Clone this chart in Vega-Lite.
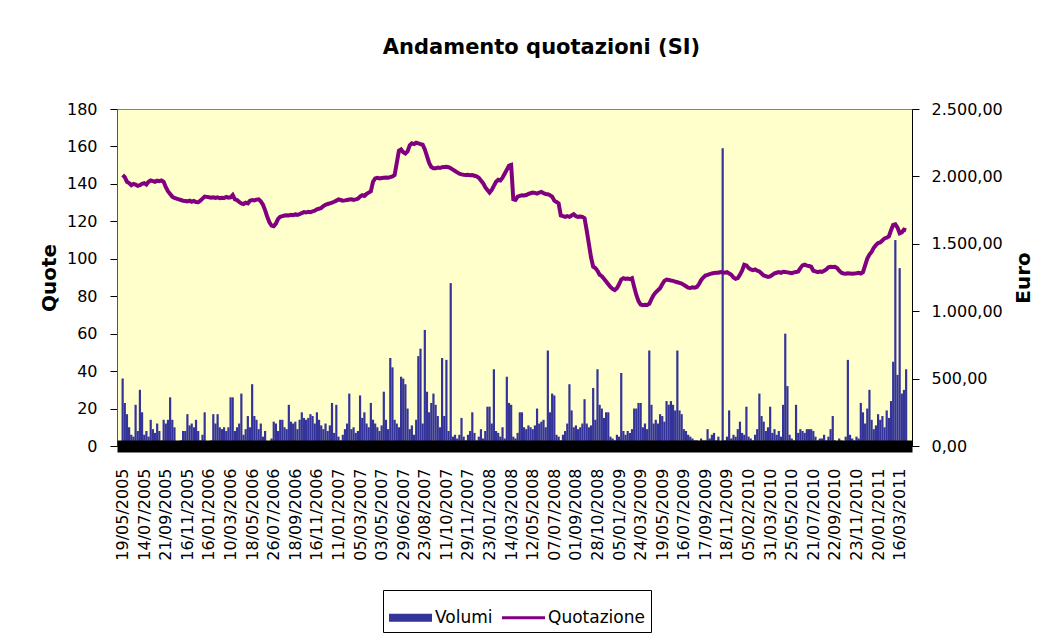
{
"$schema": "https://vega.github.io/schema/vega-lite/v6.json",
"width": 795,
"height": 337,
"autosize": "none",
"padding": {"left": 117, "top": 109, "right": 144, "bottom": 189},
"background": "white",
"title": {"text": "Andamento quotazioni (SI)", "font": "DejaVu Sans", "fontSize": 21, "fontWeight": "bold", "anchor": "middle", "dx": 27, "offset": 43, "color": "#000"},
"config": {
  "font": "DejaVu Sans",
  "view": {"fill": "#FFFFCC", "stroke": "#808080", "strokeWidth": 1},
  "axis": {"labelFont": "DejaVu Sans", "labelFontSize": 16, "labelColor": "#000", "titleFont": "DejaVu Sans", "titleFontSize": 20, "titleFontWeight": "bold", "titleColor": "#000", "grid": false, "domainColor": "#000", "tickColor": "#000"}
},
"data": {"values": [
{"n":0,"volumi":36,"quotazione":2010},{"n":1,"volumi":23,"quotazione":1995},{"n":2,"volumi":17,"quotazione":1960},{"n":3,"volumi":10,"quotazione":1950},{"n":4,"volumi":6,"quotazione":1935},{"n":5,"volumi":5,"quotazione":1945},{"n":6,"volumi":22,"quotazione":1940},{"n":7,"volumi":8,"quotazione":1930},{"n":8,"volumi":30,"quotazione":1935},{"n":9,"volumi":18,"quotazione":1945},
{"n":10,"volumi":6,"quotazione":1950},{"n":11,"volumi":8,"quotazione":1940},{"n":12,"volumi":5,"quotazione":1960},{"n":13,"volumi":14,"quotazione":1970},{"n":14,"volumi":9,"quotazione":1965},{"n":15,"volumi":7,"quotazione":1960},{"n":16,"volumi":12,"quotazione":1968},{"n":17,"volumi":8,"quotazione":1965},{"n":18,"volumi":3,"quotazione":1970},{"n":19,"volumi":14,"quotazione":1960},
{"n":20,"volumi":12,"quotazione":1920},{"n":21,"volumi":14,"quotazione":1890},{"n":22,"volumi":26,"quotazione":1870},{"n":23,"volumi":14,"quotazione":1850},{"n":24,"volumi":10,"quotazione":1840},{"n":25,"volumi":2,"quotazione":1835},{"n":26,"volumi":1,"quotazione":1830},{"n":27,"volumi":3,"quotazione":1825},{"n":28,"volumi":8,"quotazione":1820},{"n":29,"volumi":8,"quotazione":1818},
{"n":30,"volumi":17,"quotazione":1815},{"n":31,"volumi":11,"quotazione":1820},{"n":32,"volumi":12,"quotazione":1812},{"n":33,"volumi":10,"quotazione":1818},{"n":34,"volumi":14,"quotazione":1810},{"n":35,"volumi":8,"quotazione":1808},{"n":36,"volumi":3,"quotazione":1820},{"n":37,"volumi":6,"quotazione":1835},{"n":38,"volumi":18,"quotazione":1850},{"n":39,"volumi":2,"quotazione":1848},
{"n":40,"volumi":1,"quotazione":1845},{"n":41,"volumi":3,"quotazione":1842},{"n":42,"volumi":17,"quotazione":1845},{"n":43,"volumi":12,"quotazione":1840},{"n":44,"volumi":17,"quotazione":1845},{"n":45,"volumi":10,"quotazione":1838},{"n":46,"volumi":9,"quotazione":1842},{"n":47,"volumi":10,"quotazione":1840},{"n":48,"volumi":8,"quotazione":1848},{"n":49,"volumi":10,"quotazione":1842},
{"n":50,"volumi":26,"quotazione":1845},{"n":51,"volumi":26,"quotazione":1862},{"n":52,"volumi":8,"quotazione":1830},{"n":53,"volumi":10,"quotazione":1825},{"n":54,"volumi":12,"quotazione":1810},{"n":55,"volumi":28,"quotazione":1800},{"n":56,"volumi":6,"quotazione":1795},{"n":57,"volumi":9,"quotazione":1805},{"n":58,"volumi":16,"quotazione":1800},{"n":59,"volumi":10,"quotazione":1820},
{"n":60,"volumi":33,"quotazione":1825},{"n":61,"volumi":16,"quotazione":1822},{"n":62,"volumi":14,"quotazione":1828},{"n":63,"volumi":9,"quotazione":1830},{"n":64,"volumi":12,"quotazione":1815},{"n":65,"volumi":5,"quotazione":1790},{"n":66,"volumi":8,"quotazione":1750},{"n":67,"volumi":2,"quotazione":1700},{"n":68,"volumi":2,"quotazione":1660},{"n":69,"volumi":4,"quotazione":1635},
{"n":70,"volumi":13,"quotazione":1630},{"n":71,"volumi":12,"quotazione":1650},{"n":72,"volumi":8,"quotazione":1685},{"n":73,"volumi":14,"quotazione":1700},{"n":74,"volumi":14,"quotazione":1705},{"n":75,"volumi":10,"quotazione":1710},{"n":76,"volumi":9,"quotazione":1712},{"n":77,"volumi":22,"quotazione":1710},{"n":78,"volumi":13,"quotazione":1715},{"n":79,"volumi":12,"quotazione":1712},
{"n":80,"volumi":13,"quotazione":1718},{"n":81,"volumi":9,"quotazione":1715},{"n":82,"volumi":14,"quotazione":1720},{"n":83,"volumi":18,"quotazione":1728},{"n":84,"volumi":15,"quotazione":1735},{"n":85,"volumi":14,"quotazione":1732},{"n":86,"volumi":15,"quotazione":1738},{"n":87,"volumi":17,"quotazione":1735},{"n":88,"volumi":16,"quotazione":1740},{"n":89,"volumi":12,"quotazione":1745},
{"n":90,"volumi":18,"quotazione":1755},{"n":91,"volumi":14,"quotazione":1760},{"n":92,"volumi":11,"quotazione":1765},{"n":93,"volumi":9,"quotazione":1780},{"n":94,"volumi":12,"quotazione":1790},{"n":95,"volumi":8,"quotazione":1795},{"n":96,"volumi":11,"quotazione":1800},{"n":97,"volumi":23,"quotazione":1805},{"n":98,"volumi":7,"quotazione":1812},{"n":99,"volumi":22,"quotazione":1820},
{"n":100,"volumi":5,"quotazione":1830},{"n":101,"volumi":3,"quotazione":1825},{"n":102,"volumi":6,"quotazione":1820},{"n":103,"volumi":9,"quotazione":1822},{"n":104,"volumi":12,"quotazione":1825},{"n":105,"volumi":28,"quotazione":1828},{"n":106,"volumi":9,"quotazione":1830},{"n":107,"volumi":10,"quotazione":1826},{"n":108,"volumi":7,"quotazione":1830},{"n":109,"volumi":8,"quotazione":1835},
{"n":110,"volumi":27,"quotazione":1850},{"n":111,"volumi":15,"quotazione":1860},{"n":112,"volumi":18,"quotazione":1855},{"n":113,"volumi":12,"quotazione":1870},{"n":114,"volumi":10,"quotazione":1880},{"n":115,"volumi":23,"quotazione":1890},{"n":116,"volumi":14,"quotazione":1960},{"n":117,"volumi":12,"quotazione":1985},{"n":118,"volumi":10,"quotazione":1990},{"n":119,"volumi":8,"quotazione":1985},
{"n":120,"volumi":11,"quotazione":1988},{"n":121,"volumi":29,"quotazione":1990},{"n":122,"volumi":14,"quotazione":1992},{"n":123,"volumi":9,"quotazione":1990},{"n":124,"volumi":47,"quotazione":1995},{"n":125,"volumi":42,"quotazione":2000},{"n":126,"volumi":14,"quotazione":2010},{"n":127,"volumi":12,"quotazione":2100},{"n":128,"volumi":10,"quotazione":2190},{"n":129,"volumi":37,"quotazione":2200},
{"n":130,"volumi":36,"quotazione":2180},{"n":131,"volumi":33,"quotazione":2170},{"n":132,"volumi":20,"quotazione":2185},{"n":133,"volumi":9,"quotazione":2230},{"n":134,"volumi":11,"quotazione":2245},{"n":135,"volumi":6,"quotazione":2240},{"n":136,"volumi":14,"quotazione":2250},{"n":137,"volumi":48,"quotazione":2245},{"n":138,"volumi":52,"quotazione":2240},{"n":139,"volumi":12,"quotazione":2235},
{"n":140,"volumi":62,"quotazione":2200},{"n":141,"volumi":29,"quotazione":2150},{"n":142,"volumi":18,"quotazione":2100},{"n":143,"volumi":23,"quotazione":2070},{"n":144,"volumi":28,"quotazione":2060},{"n":145,"volumi":22,"quotazione":2060},{"n":146,"volumi":16,"quotazione":2065},{"n":147,"volumi":10,"quotazione":2062},{"n":148,"volumi":47,"quotazione":2068},{"n":149,"volumi":16,"quotazione":2070},
{"n":150,"volumi":46,"quotazione":2072},{"n":151,"volumi":8,"quotazione":2068},{"n":152,"volumi":87,"quotazione":2060},{"n":153,"volumi":5,"quotazione":2050},{"n":154,"volumi":6,"quotazione":2040},{"n":155,"volumi":4,"quotazione":2030},{"n":156,"volumi":6,"quotazione":2020},{"n":157,"volumi":15,"quotazione":2015},{"n":158,"volumi":5,"quotazione":2012},{"n":159,"volumi":3,"quotazione":2010},
{"n":160,"volumi":6,"quotazione":2012},{"n":161,"volumi":8,"quotazione":2008},{"n":162,"volumi":18,"quotazione":2010},{"n":163,"volumi":7,"quotazione":2005},{"n":164,"volumi":3,"quotazione":2000},{"n":165,"volumi":5,"quotazione":1990},{"n":166,"volumi":9,"quotazione":1970},{"n":167,"volumi":4,"quotazione":1950},{"n":168,"volumi":8,"quotazione":1920},{"n":169,"volumi":21,"quotazione":1900},
{"n":170,"volumi":21,"quotazione":1880},{"n":171,"volumi":12,"quotazione":1900},{"n":172,"volumi":41,"quotazione":1930},{"n":173,"volumi":8,"quotazione":1960},{"n":174,"volumi":7,"quotazione":1975},{"n":175,"volumi":5,"quotazione":1970},{"n":176,"volumi":10,"quotazione":1990},{"n":177,"volumi":4,"quotazione":2020},{"n":178,"volumi":37,"quotazione":2050},{"n":179,"volumi":23,"quotazione":2080},
{"n":180,"volumi":22,"quotazione":2085},{"n":181,"volumi":5,"quotazione":1830},{"n":182,"volumi":4,"quotazione":1825},{"n":183,"volumi":7,"quotazione":1850},{"n":184,"volumi":18,"quotazione":1855},{"n":185,"volumi":18,"quotazione":1860},{"n":186,"volumi":10,"quotazione":1858},{"n":187,"volumi":9,"quotazione":1862},{"n":188,"volumi":11,"quotazione":1870},{"n":189,"volumi":10,"quotazione":1875},
{"n":190,"volumi":9,"quotazione":1880},{"n":191,"volumi":11,"quotazione":1878},{"n":192,"volumi":20,"quotazione":1872},{"n":193,"volumi":12,"quotazione":1880},{"n":194,"volumi":13,"quotazione":1885},{"n":195,"volumi":14,"quotazione":1875},{"n":196,"volumi":10,"quotazione":1870},{"n":197,"volumi":51,"quotazione":1868},{"n":198,"volumi":18,"quotazione":1860},{"n":199,"volumi":28,"quotazione":1850},
{"n":200,"volumi":27,"quotazione":1820},{"n":201,"volumi":6,"quotazione":1810},{"n":202,"volumi":5,"quotazione":1800},{"n":203,"volumi":3,"quotazione":1710},{"n":204,"volumi":6,"quotazione":1705},{"n":205,"volumi":8,"quotazione":1700},{"n":206,"volumi":12,"quotazione":1705},{"n":207,"volumi":33,"quotazione":1700},{"n":208,"volumi":19,"quotazione":1710},{"n":209,"volumi":10,"quotazione":1720},
{"n":210,"volumi":11,"quotazione":1705},{"n":211,"volumi":9,"quotazione":1700},{"n":212,"volumi":10,"quotazione":1702},{"n":213,"volumi":12,"quotazione":1700},{"n":214,"volumi":25,"quotazione":1690},{"n":215,"volumi":12,"quotazione":1600},{"n":216,"volumi":10,"quotazione":1500},{"n":217,"volumi":11,"quotazione":1400},{"n":218,"volumi":31,"quotazione":1330},{"n":219,"volumi":14,"quotazione":1320},
{"n":220,"volumi":41,"quotazione":1300},{"n":221,"volumi":22,"quotazione":1270},{"n":222,"volumi":20,"quotazione":1260},{"n":223,"volumi":15,"quotazione":1240},{"n":224,"volumi":18,"quotazione":1220},{"n":225,"volumi":18,"quotazione":1200},{"n":226,"volumi":5,"quotazione":1180},{"n":227,"volumi":4,"quotazione":1165},{"n":228,"volumi":3,"quotazione":1157},{"n":229,"volumi":6,"quotazione":1170},
{"n":230,"volumi":5,"quotazione":1200},{"n":231,"volumi":39,"quotazione":1235},{"n":232,"volumi":8,"quotazione":1245},{"n":233,"volumi":6,"quotazione":1240},{"n":234,"volumi":8,"quotazione":1242},{"n":235,"volumi":7,"quotazione":1238},{"n":236,"volumi":9,"quotazione":1245},{"n":237,"volumi":20,"quotazione":1180},{"n":238,"volumi":20,"quotazione":1120},{"n":239,"volumi":23,"quotazione":1075},
{"n":240,"volumi":23,"quotazione":1050},{"n":241,"volumi":10,"quotazione":1045},{"n":242,"volumi":12,"quotazione":1048},{"n":243,"volumi":9,"quotazione":1046},{"n":244,"volumi":51,"quotazione":1055},{"n":245,"volumi":22,"quotazione":1090},{"n":246,"volumi":12,"quotazione":1120},{"n":247,"volumi":14,"quotazione":1140},{"n":248,"volumi":12,"quotazione":1155},{"n":249,"volumi":17,"quotazione":1170},
{"n":250,"volumi":16,"quotazione":1200},{"n":251,"volumi":13,"quotazione":1225},{"n":252,"volumi":24,"quotazione":1235},{"n":253,"volumi":22,"quotazione":1232},{"n":254,"volumi":24,"quotazione":1228},{"n":255,"volumi":22,"quotazione":1225},{"n":256,"volumi":19,"quotazione":1220},{"n":257,"volumi":51,"quotazione":1215},{"n":258,"volumi":19,"quotazione":1210},{"n":259,"volumi":17,"quotazione":1205},
{"n":260,"volumi":9,"quotazione":1195},{"n":261,"volumi":8,"quotazione":1185},{"n":262,"volumi":6,"quotazione":1175},{"n":263,"volumi":5,"quotazione":1172},{"n":264,"volumi":4,"quotazione":1178},{"n":265,"volumi":3,"quotazione":1175},{"n":266,"volumi":3,"quotazione":1180},{"n":267,"volumi":2,"quotazione":1200},{"n":268,"volumi":4,"quotazione":1230},{"n":269,"volumi":3,"quotazione":1250},
{"n":270,"volumi":3,"quotazione":1265},{"n":271,"volumi":9,"quotazione":1270},{"n":272,"volumi":4,"quotazione":1275},{"n":273,"volumi":6,"quotazione":1280},{"n":274,"volumi":7,"quotazione":1283},{"n":275,"volumi":3,"quotazione":1285},{"n":276,"volumi":5,"quotazione":1285},{"n":277,"volumi":2,"quotazione":1290},{"n":278,"volumi":159,"quotazione":1288},{"n":279,"volumi":3,"quotazione":1285},
{"n":280,"volumi":5,"quotazione":1290},{"n":281,"volumi":19,"quotazione":1280},{"n":282,"volumi":4,"quotazione":1270},{"n":283,"volumi":6,"quotazione":1250},{"n":284,"volumi":5,"quotazione":1240},{"n":285,"volumi":9,"quotazione":1245},{"n":286,"volumi":13,"quotazione":1270},{"n":287,"volumi":7,"quotazione":1300},{"n":288,"volumi":6,"quotazione":1345},{"n":289,"volumi":21,"quotazione":1340},
{"n":290,"volumi":5,"quotazione":1320},{"n":291,"volumi":4,"quotazione":1310},{"n":292,"volumi":3,"quotazione":1305},{"n":293,"volumi":6,"quotazione":1310},{"n":294,"volumi":9,"quotazione":1300},{"n":295,"volumi":28,"quotazione":1295},{"n":296,"volumi":16,"quotazione":1280},{"n":297,"volumi":13,"quotazione":1265},{"n":298,"volumi":8,"quotazione":1260},{"n":299,"volumi":10,"quotazione":1255},
{"n":300,"volumi":21,"quotazione":1258},{"n":301,"volumi":7,"quotazione":1270},{"n":302,"volumi":9,"quotazione":1280},{"n":303,"volumi":6,"quotazione":1285},{"n":304,"volumi":8,"quotazione":1290},{"n":305,"volumi":5,"quotazione":1285},{"n":306,"volumi":22,"quotazione":1292},{"n":307,"volumi":60,"quotazione":1290},{"n":308,"volumi":32,"quotazione":1288},{"n":309,"volumi":6,"quotazione":1285},
{"n":310,"volumi":4,"quotazione":1282},{"n":311,"volumi":3,"quotazione":1288},{"n":312,"volumi":22,"quotazione":1290},{"n":313,"volumi":7,"quotazione":1295},{"n":314,"volumi":9,"quotazione":1320},{"n":315,"volumi":8,"quotazione":1340},{"n":316,"volumi":7,"quotazione":1345},{"n":317,"volumi":9,"quotazione":1338},{"n":318,"volumi":9,"quotazione":1335},{"n":319,"volumi":9,"quotazione":1330},
{"n":320,"volumi":8,"quotazione":1300},{"n":321,"volumi":5,"quotazione":1295},{"n":322,"volumi":3,"quotazione":1290},{"n":323,"volumi":4,"quotazione":1295},{"n":324,"volumi":4,"quotazione":1292},{"n":325,"volumi":6,"quotazione":1300},{"n":326,"volumi":3,"quotazione":1310},{"n":327,"volumi":5,"quotazione":1325},{"n":328,"volumi":9,"quotazione":1330},{"n":329,"volumi":16,"quotazione":1328},
{"n":330,"volumi":3,"quotazione":1330},{"n":331,"volumi":2,"quotazione":1320},{"n":332,"volumi":4,"quotazione":1300},{"n":333,"volumi":3,"quotazione":1285},{"n":334,"volumi":2,"quotazione":1280},{"n":335,"volumi":5,"quotazione":1278},{"n":336,"volumi":46,"quotazione":1282},{"n":337,"volumi":6,"quotazione":1280},{"n":338,"volumi":4,"quotazione":1278},{"n":339,"volumi":3,"quotazione":1280},
{"n":340,"volumi":5,"quotazione":1282},{"n":341,"volumi":4,"quotazione":1285},{"n":342,"volumi":23,"quotazione":1280},{"n":343,"volumi":18,"quotazione":1290},{"n":344,"volumi":12,"quotazione":1340},{"n":345,"volumi":20,"quotazione":1390},{"n":346,"volumi":30,"quotazione":1420},{"n":347,"volumi":14,"quotazione":1440},{"n":348,"volumi":9,"quotazione":1470},{"n":349,"volumi":11,"quotazione":1490},
{"n":350,"volumi":17,"quotazione":1505},{"n":351,"volumi":14,"quotazione":1510},{"n":352,"volumi":16,"quotazione":1525},{"n":353,"volumi":10,"quotazione":1540},{"n":354,"volumi":19,"quotazione":1545},{"n":355,"volumi":15,"quotazione":1555},{"n":356,"volumi":24,"quotazione":1600},{"n":357,"volumi":45,"quotazione":1640},{"n":358,"volumi":110,"quotazione":1645},{"n":359,"volumi":38,"quotazione":1620},
{"n":360,"volumi":95,"quotazione":1578},{"n":361,"volumi":28,"quotazione":1585},{"n":362,"volumi":30,"quotazione":1605},{"n":363,"volumi":41,"quotazione":1600}
]},
"encoding": {
  "x": {"field": "n", "type": "quantitative",
    "scale": {"domain": [-0.3, 363.4], "nice": false, "zero": false},
    "axis": {"title": null, "values": [0,10,20,30,40,50,60,70,80,90,100,110,120,130,140,150,160,170,180,190,200,210,220,230,240,250,260,270,280,290,300,310,320,330,340,350,360],
      "labelExpr": "['19/05/2005','14/07/2005','21/09/2005','16/11/2005','16/01/2006','10/03/2006','18/05/2006','26/07/2006','18/09/2006','16/11/2006','11/01/2007','05/03/2007','03/05/2007','29/06/2007','23/08/2007','11/10/2007','29/11/2007','23/01/2008','14/03/2008','12/05/2008','07/07/2008','01/09/2008','28/10/2008','05/01/2009','24/03/2009','19/05/2009','16/07/2009','17/09/2009','18/11/2009','05/02/2010','31/03/2010','25/05/2010','21/07/2010','22/09/2010','23/11/2010','20/01/2011','16/03/2011'][round(datum.value/10)]",
      "labelAngle": -90, "ticks": false, "tickSize": 0, "labelPadding": 22, "domainWidth": 12, "domainColor": "#000", "zindex": 1, "labelOverlap": false, "labelSeparation": 0, "labelFlush": false, "labelBound": false}
  }
},
"layer": [
  {
    "mark": {"type": "bar", "orient": "vertical", "width": 2.2},
    "encoding": {
      "y": {"field": "volumi", "type": "quantitative",
        "scale": {"domain": [0, 180], "nice": false},
        "axis": {"title": "Quote", "values": [0,20,40,60,80,100,120,140,160,180], "tickSize": 7, "labelPadding": 13, "titlePadding": 7, "domainColor": "#555"}
      },
      "color": {"datum": "Volumi", "type": "nominal",
        "scale": {"domain": ["Volumi", "Quotazione"], "range": ["#333399", "#800080"]},
        "legend": {"title": null, "orient": "none", "legendX": 266, "legendY": 481, "direction": "horizontal",
          "symbolType": "M-1,-0.19H1V0.19H-1Z", "symbolSize": 1849, "symbolStrokeWidth": 0,
          "labelFont": "DejaVu Sans", "labelFontSize": 17, "labelColor": "#000", "labelOffset": 3, "columnPadding": 9,
          "padding": 6, "strokeColor": "#000", "fillColor": "#fff",
          "encode": {"symbols": {"update": {
            "shape": {"signal": "datum.value === 'Volumi' ? 'M-1,-0.19H1V0.19H-1Z' : 'M-1,-0.075H1V0.075H-1Z'"},
            "size": {"value": 1849},
            "strokeWidth": {"value": 0},
            "fill": {"signal": "datum.value === 'Volumi' ? '#333399' : '#800080'"},
            "opacity": {"value": 1},
            "fillOpacity": {"value": 1}}}}}
      }
    }
  },
  {
    "mark": {"type": "line", "strokeWidth": 4},
    "encoding": {
      "y": {"field": "quotazione", "type": "quantitative",
        "scale": {"domain": [0, 2500], "nice": false},
        "axis": {"orient": "right", "title": "Euro", "values": [0,500,1000,1500,2000,2500],
          "labelExpr": "replace(replace(replace(format(datum.value, ',.2f'), ',', '#'), '.', ','), '#', '.')",
          "tickSize": 7, "labelPadding": 12, "titleAngle": 270, "titlePadding": 31, "domainColor": "#000"}
      },
      "color": {"datum": "Quotazione", "type": "nominal"}
    }
  }
],
"resolve": {"scale": {"y": "independent"}}
}
